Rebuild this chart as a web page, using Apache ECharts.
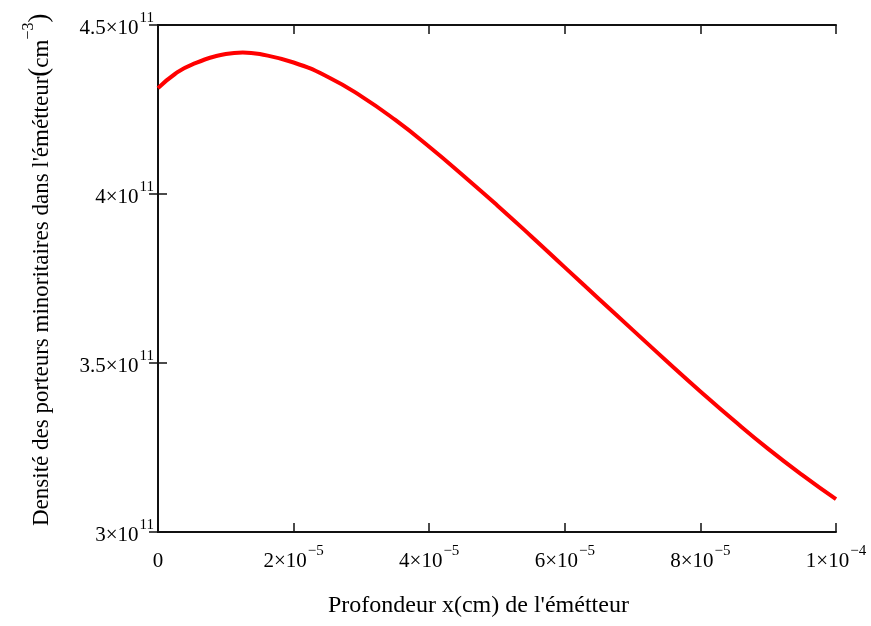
<!DOCTYPE html>
<html>
<head>
<meta charset="utf-8">
<script src="https://cdn.jsdelivr.net/npm/echarts@6/dist/echarts.min.js"></script>
<style>
html,body{margin:0;padding:0;background:#fff;}
#chart{width:871px;height:626px;}
</style>
</head>
<body>
<div id="chart"></div>
<script>
// Depth x (cm)
var depthX = [0, 0.25e-5, 0.5e-5, 1.0e-5, 1.25e-5, 1.5e-5, 2.0e-5, 2.5e-5, 3.0e-5, 3.5e-5,
  4.0e-5, 4.5e-5, 5.0e-5, 5.5e-5, 6.0e-5, 6.5e-5, 7.0e-5, 7.5e-5, 8.0e-5, 8.5e-5,
  9.0e-5, 9.5e-5, 10e-5];
// Minority carrier density (cm^-3)
var density = [4.313e11, 4.355e11, 4.383e11, 4.414e11, 4.419e11, 4.414e11, 4.389e11, 4.347e11, 4.289e11, 4.219e11,
  4.140e11, 4.055e11, 3.967e11, 3.876e11, 3.783e11, 3.690e11, 3.598e11, 3.506e11, 3.416e11, 3.329e11,
  3.246e11, 3.169e11, 3.097e11];
// Tick labels (mantissa, exponent)
var xTickLabels = [['0', ''], ['2', '\u22125'], ['4', '\u22125'], ['6', '\u22125'], ['8', '\u22125'], ['1', '\u22124']];
var yTickLabels = [['3', '11'], ['3.5', '11'], ['4', '11'], ['4.5', '11']];
var xTitle = "Profondeur x(cm) de l'émétteur";
var yTitle = "Densité des porteurs minoritaires dans l'émétteur";

var FONT = '"Liberation Serif", "Times New Roman", serif';
var pts = depthX.map(function (x, i) { return [x, density[i]]; });

function xFmt(v) {
  var i = Math.round(v / 2e-5);
  var t = xTickLabels[i];
  if (!t) return '';
  if (!t[1]) return '{m|' + t[0] + '}';
  return '{m|' + t[0] + '×10}{s|' + t[1] + '}';
}
function yFmt(v) {
  var i = Math.round((v - 3e11) / 0.5e11);
  var t = yTickLabels[i];
  if (!t) return '';
  return '{m|' + t[0] + '×10}{s|' + t[1] + '}';
}
var rich = {
  m: { fontFamily: FONT, fontSize: 21, color: '#000', lineHeight: 28, verticalAlign: 'bottom' },
  s: { fontFamily: FONT, fontSize: 15, color: '#000', lineHeight: 28, verticalAlign: 'top', padding: [0, 0, 0, 1] }
};

var axisLine = { show: true, lineStyle: { color: '#111', width: 2 } };
var tick = { show: true, inside: true, length: 9, lineStyle: { color: '#111', width: 1.5 } };

var chart = echarts.init(document.getElementById('chart'));
chart.setOption({
  backgroundColor: '#fff',
  animation: false,
  grid: { left: 158, right: 35, top: 25, bottom: 94, containLabel: false },
  xAxis: [{
    type: 'value', min: 0, max: 1e-4, interval: 2e-5, position: 'bottom',
    axisLine: axisLine, axisTick: tick, splitLine: { show: false },
    axisLabel: { formatter: xFmt, rich: rich, margin: 12 }
  }, {
    type: 'value', min: 0, max: 1e-4, interval: 2e-5, position: 'top',
    axisLine: axisLine, axisTick: tick, splitLine: { show: false },
    axisLabel: { show: false }
  }],
  yAxis: [{
    type: 'value', min: 3e11, max: 4.5e11, interval: 0.5e11, position: 'left',
    axisLine: axisLine, axisTick: tick, splitLine: { show: false },
    axisLabel: { formatter: yFmt, rich: rich, margin: 4 }
  }, {
    type: 'value', min: 3e11, max: 4.5e11, interval: 0.5e11, position: 'right',
    axisLine: axisLine, axisTick: tick, splitLine: { show: false },
    axisLabel: { show: false }
  }],
  series: [{
    type: 'line', data: pts, smooth: true, showSymbol: false,
    lineStyle: { color: '#ff0000', width: 4 }, z: 1
  }],
  graphic: [{
    type: 'text', left: 328, top: 594,
    style: { text: xTitle, font: '24px ' + FONT, fill: '#000' }
  }, {
    type: 'text', x: 21, y: 526, rotation: Math.PI / 2,
    style: {
      text: '{t|' + yTitle + '}{p|(}{t|cm}{s|\u22123}{p|)}',
      rich: {
        t: { fontFamily: FONT, fontSize: 23, fill: '#000', lineHeight: 32, verticalAlign: 'bottom' },
        p: { fontFamily: FONT, fontSize: 27, fill: '#000', lineHeight: 32, verticalAlign: 'bottom' },
        s: { fontFamily: FONT, fontSize: 16, fill: '#000', lineHeight: 32, verticalAlign: 'top' }
      }
    }
  }]
});
</script>
</body>
</html>
